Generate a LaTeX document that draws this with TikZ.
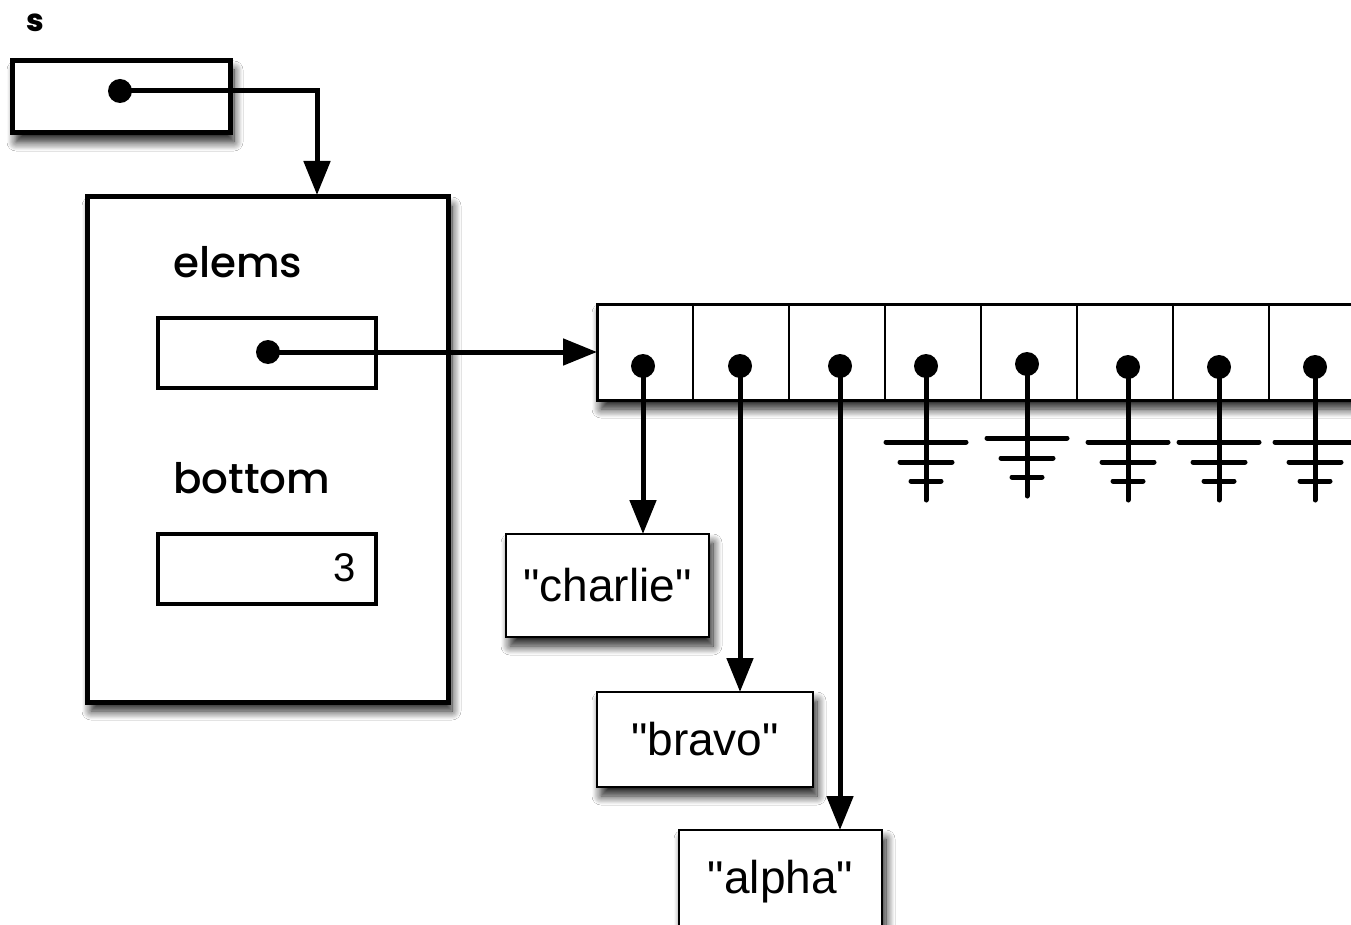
\documentclass[tikz,border=0pt]{standalone}
\usepackage{fontspec}
\setmainfont{Liberation Sans}
\newfontfamily\futura{Poppins Medium}
\usetikzlibrary{arrows.meta,shadows.blur,calc}
\begin{document}
\begin{tikzpicture}[x=1pt,y=-1pt,
  shd/.style={blur shadow={shadow xshift=4pt,shadow yshift=-9pt,shadow blur radius=9pt,shadow blur steps=12,shadow opacity=90}},
  box/.style={draw,fill=white,line width=5pt,inner sep=0pt,outer sep=0pt,shd},
  fieldbox/.style={draw,fill=white,line width=3.5pt,inner sep=0pt,outer sep=0pt},
  strbox/.style={draw,fill=white,line width=2.6pt,inner sep=0pt,outer sep=0pt,shd,font=\fontsize{46}{50}\selectfont},
  dot/.style={circle,fill=black,inner sep=0pt,minimum size=24pt},
  ptr/.style={line width=5pt,-{Triangle[length=34pt,width=26pt]}},
  lbl/.style={anchor=base west,inner sep=0pt,font=\futura\fontsize{42}{46}\selectfont},
  gnd/.style={line width=5pt,line cap=round}]
\clip (0,0) rectangle (1351,925);
\fill[white] (0,0) rectangle (1351,925);
% s variable
\node[anchor=base west,inner sep=0pt,font=\futura\bfseries\fontsize{31}{33}\selectfont] (slbl) at (26,32) {s};
\node[box,minimum width=218pt,minimum height=72pt] (sbox) at (121,97) {};
\node[dot] (sdot) at (120,91) {};
% struct
\node[box,minimum width=361pt,minimum height=505pt] (big) at (267.5,449.5) {};
\coordinate (bigin) at (317,195);
\node[lbl] (elemslbl) at (173,277) {elems};
\node[fieldbox,minimum width=218pt,minimum height=70pt] (elems) at (267,353) {};
\node[dot] (edot) at (268,352) {};
\node[lbl] (bottomlbl) at (173,493) {bottom};
\node[fieldbox,minimum width=218pt,minimum height=70pt] (bottom) at (267,569) {};
\node[anchor=east,inner sep=0pt,font=\fontsize{40}{44}\selectfont] (three) at (356,568) {3};
% array
\node[draw,fill=white,line width=3pt,inner sep=0pt,outer sep=0pt,minimum width=803pt,minimum height=96pt,shd] (arr) at (998.5,352) {};
\foreach \i in {1,...,7} {
  \draw[line width=2.5pt] ($(arr.north west)+(96*\i,0)$) -- ($(arr.south west)+(96*\i,0)$);
}
\node[dot] (d1) at (643,366) {};
\node[dot] (d2) at (740,366) {};
\node[dot] (d3) at (840,366) {};
\node[dot] (d4) at (926,366) {};
\node[dot] (d5) at (1027,364) {};
\node[dot] (d6) at (1128,367) {};
\node[dot] (d7) at (1219,367) {};
\node[dot] (d8) at (1315,367) {};
% strings
\node[strbox,minimum width=203pt,minimum height=103pt] (charlie) at (607.5,585.5) {\textquotedbl charlie\textquotedbl};
\node[strbox,minimum width=216pt,minimum height=95pt] (bravo) at (705,739.5) {\textquotedbl bravo\textquotedbl};
\node[strbox,minimum width=203pt,minimum height=103pt] (alpha) at (780.5,881.5) {\textquotedbl alpha\textquotedbl};
% pointers
\draw[ptr] (sdot.center) -| (bigin);
\draw[ptr] (edot.center) -- (arr.west);
\draw[ptr] (d1.center) -- (d1.center |- charlie.north);
\draw[ptr] (d2.center) -- (d2.center |- bravo.north);
\draw[ptr] (d3.center) -- (d3.center |- alpha.north);
% nulls
\foreach \d/\yb in {d4/442,d5/438,d6/442,d7/442,d8/442} {
  \draw[gnd] (\d.center) -- (\d.center |- 0,\yb+58);
  \draw[gnd] ($(\d.center |- 0,\yb)+(-40,0)$) -- ++(80,0);
  \draw[gnd] ($(\d.center |- 0,\yb)+(-26,20)$) -- ++(52,0);
  \draw[gnd] ($(\d.center |- 0,\yb)+(-15,39)$) -- ++(30,0);
}
\end{tikzpicture}
\end{document}
